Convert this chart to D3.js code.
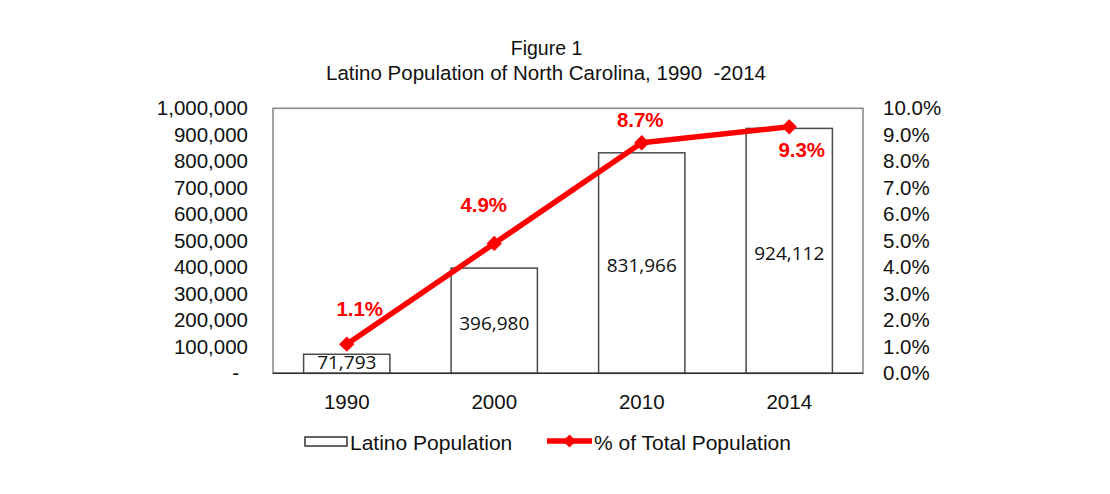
<!DOCTYPE html>
<html>
<head>
<meta charset="utf-8">
<script src="https://cdn.jsdelivr.net/npm/d3@7"></script>
<style>
  html, body { margin: 0; padding: 0; background: #fff; }
  svg { display: block; }
  text { font-family: "Liberation Sans", Arial, sans-serif; fill: #111; }
</style>
</head>
<body>
<svg id="chart" width="1110" height="494"></svg>
<script>
// ---- data ----
const years = ["1990", "2000", "2010", "2014"];
const population = [71793, 396980, 831966, 924112];
const percentTotal = [0.011, 0.049, 0.087, 0.093];
const popTicks = [0, 100000, 200000, 300000, 400000, 500000, 600000, 700000, 800000, 900000, 1000000];
const pctTicks = [0, 0.01, 0.02, 0.03, 0.04, 0.05, 0.06, 0.07, 0.08, 0.09, 0.10];
const titleLines = ["Figure 1", "Latino Population of North Carolina, 1990  -2014"];
const legendLabels = ["Latino Population", "% of Total Population"];

// ---- layout ----
const plot = { left: 273, right: 863, top: 108.3, bottom: 373.3 };
// manual label placement (dx, dy from point) like the original
const pctLabelOffsets = [[13, -28], [-10.5, -31], [-1.5, -16], [12.5, 30]];

const svg = d3.select("#chart");
svg.append("rect").attr("width", 1110).attr("height", 494).attr("fill", "#fff");

const x = d3.scaleBand().domain(years).range([plot.left, plot.right]).padding(0);
const yL = d3.scaleLinear().domain([0, 1000000]).range([plot.bottom, plot.top]);
const yR = d3.scaleLinear().domain([0, 0.10]).range([plot.bottom, plot.top]);

// title
svg.append("text").attr("x", 546.5).attr("y", 55).attr("text-anchor", "middle")
  .style("font-size", "19.5px").text(titleLines[0]);
svg.append("text").attr("x", 546).attr("y", 80).attr("text-anchor", "middle")
  .style("font-size", "20.5px").style("white-space", "pre").text(titleLines[1]);

// plot border
svg.append("rect")
  .attr("x", plot.left).attr("y", plot.top)
  .attr("width", plot.right - plot.left).attr("height", plot.bottom - plot.top)
  .attr("fill", "none").attr("stroke", "#8a8a8a").attr("stroke-width", 1.6);

// bars
const barW = x.bandwidth() * 0.585;
const bars = svg.append("g");
bars.selectAll("rect").data(years).join("rect")
  .attr("x", d => x(d) + x.bandwidth() / 2 - barW / 2)
  .attr("y", (d, i) => yL(population[i]))
  .attr("width", barW)
  .attr("height", (d, i) => plot.bottom - yL(population[i]))
  .attr("fill", "#fff").attr("stroke", "#4a4a4a").attr("stroke-width", 1.5);

// bottom axis line
svg.append("line").attr("x1", plot.left).attr("x2", plot.right)
  .attr("y1", plot.bottom).attr("y2", plot.bottom)
  .attr("stroke", "#333").attr("stroke-width", 1.6);

// bar value labels
bars.selectAll("text").data(years).join("text")
  .attr("x", d => x(d) + x.bandwidth() / 2)
  .attr("y", (d, i) => (yL(population[i]) + plot.bottom) / 2 + (i === 0 ? -2 : 2.5))
  .attr("dy", "0.36em")
  .attr("text-anchor", "middle")
  .style("font-family", "'Open Sans', sans-serif")
  .style("font-size", "19px")
  .text((d, i) => d3.format(",")(population[i]));

// left axis
const axL = svg.append("g").attr("transform", `translate(${plot.left - 25},0)`)
  .call(d3.axisLeft(yL).tickValues(popTicks).tickSize(0).tickPadding(0)
    .tickFormat(v => v === 0 ? "-" : d3.format(",")(v)));
axL.select(".domain").remove();
axL.selectAll("text").style("font-size", "20.5px").style("font-family", "'Liberation Sans', Arial, sans-serif")
  .attr("fill", "#111")
  .attr("dx", v => v === 0 ? -9 : 0);

// right axis
const axR = svg.append("g").attr("transform", `translate(${plot.right + 20},0)`)
  .call(d3.axisRight(yR).tickValues(pctTicks).tickSize(0).tickPadding(0)
    .tickFormat(d3.format(".1%")));
axR.select(".domain").remove();
axR.selectAll("text").style("font-size", "20.5px").style("font-family", "'Liberation Sans', Arial, sans-serif")
  .attr("fill", "#111");

// bottom axis labels
const axB = svg.append("g").attr("transform", `translate(0,${plot.bottom})`)
  .call(d3.axisBottom(x).tickSize(0).tickPadding(21));
axB.select(".domain").remove();
axB.selectAll("text").style("font-size", "20.5px").style("font-family", "'Liberation Sans', Arial, sans-serif")
  .attr("fill", "#111");

// line series
const pts = years.map((d, i) => [x(d) + x.bandwidth() / 2, yR(percentTotal[i])]);
svg.append("path")
  .attr("d", d3.line()(pts))
  .attr("fill", "none").attr("stroke", "#ff0000").attr("stroke-width", 5.5)
  .attr("stroke-linejoin", "round");
const diamond = d3.symbol().type(d3.symbolDiamond2).size(150);
svg.append("g").selectAll("path").data(pts).join("path")
  .attr("transform", p => `translate(${p[0]},${p[1]})`)
  .attr("d", diamond).attr("fill", "#ff0000");

// percent labels
svg.append("g").selectAll("text").data(pts).join("text")
  .attr("x", (p, i) => p[0] + pctLabelOffsets[i][0])
  .attr("y", (p, i) => p[1] + pctLabelOffsets[i][1])
  .attr("text-anchor", "middle")
  .style("font-size", "20.5px").style("font-weight", "bold")
  .style("fill", "#ff0000")
  .text((p, i) => d3.format(".1%")(percentTotal[i]));

// legend
const lg = svg.append("g");
lg.append("rect").attr("x", 305).attr("y", 437).attr("width", 42).attr("height", 9)
  .attr("fill", "#fff").attr("stroke", "#333").attr("stroke-width", 1.5);
lg.append("text").attr("x", 350).attr("y", 450).style("font-size", "21px").text(legendLabels[0]);
lg.append("line").attr("x1", 547).attr("x2", 592).attr("y1", 441).attr("y2", 441)
  .attr("stroke", "#ff0000").attr("stroke-width", 5.5);
lg.append("path").attr("transform", "translate(569.5,441)")
  .attr("d", d3.symbol().type(d3.symbolDiamond2).size(110)).attr("fill", "#ff0000");
lg.append("text").attr("x", 594).attr("y", 450).style("font-size", "21px").text(legendLabels[1]);
</script>
</body>
</html>
